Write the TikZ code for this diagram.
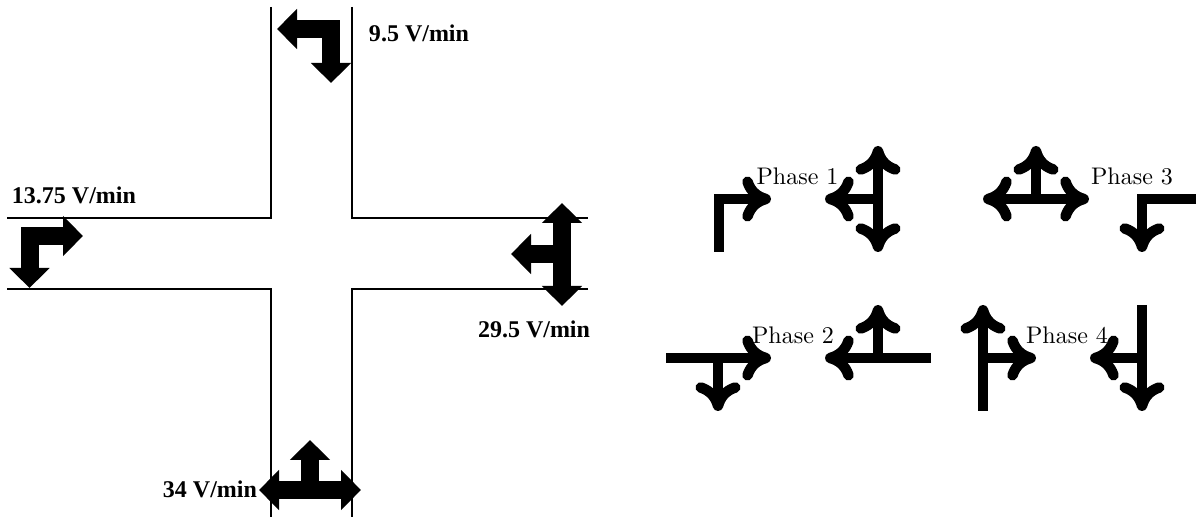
\documentclass[tikz,border=0pt]{standalone}
\usepackage{fontspec}
\newfontfamily\ratefont{Liberation Serif}
\usetikzlibrary{arrows.meta}
\tikzset{
  roadline/.style={line width=1pt},
  bigarrow/.style={line width=7.2pt,>={Triangle[length=8pt,width=15.6pt]}},
  phasearrow/.style={line width=4.2pt,>={Computer Modern Rightarrow[length=11.5pt,width=18pt,round]}},
  ratelabel/.style={font=\ratefont\bfseries\fontsize{9.6}{12}\selectfont,inner sep=0pt},
  phaselabel/.style={font=\fontsize{9.6}{12}\selectfont,anchor=base,inner sep=0pt}
}

\begin{document}
\begin{tikzpicture}[x=0.4pt,y=-0.4pt]
    \useasboundingbox (0, 0) rectangle (1199, 518);

    \draw[roadline] (271, 7) -- (271, 218) -- (7, 218);
    \draw[roadline] (352, 7) -- (352, 218) -- (588, 218);
    \draw[roadline] (7, 289) -- (271, 289) -- (271, 517);
    \draw[roadline] (588, 289) -- (352, 289) -- (352, 517);

    \draw[bigarrow,<->] (277, 29) -| (331, 83);
    \draw[bigarrow,<->] (83, 236) -| (29.5, 288);
    \draw[bigarrow,<->] (562, 203) -- (562, 306);
    \draw[bigarrow,->] (562, 254) -- (511, 254);
    \draw[bigarrow,<->] (259, 490) -- (361, 490);
    \draw[bigarrow,->] (310, 490) -- (310, 440);

    \node[ratelabel] (rateN) at (419, 33) {9.5 V/min};
    \node[ratelabel] (rateW) at (74, 195) {13.75 V/min};
    \node[ratelabel] (rateE) at (534, 329) {29.5 V/min};
    \node[ratelabel] (rateS) at (210, 489) {34 V/min};

    \draw[phasearrow,->] (719, 252) |- (771, 199);
    \draw[phasearrow,<->] (878, 146) -- (878, 252);
    \draw[phasearrow,->] (878, 199) -- (825, 199);

    \draw[phasearrow,<->] (983, 199) -- (1089, 199);
    \draw[phasearrow,->] (1036, 199) -- (1036, 146);
    \draw[phasearrow,->] (1196, 199) -| (1142, 252);

    \draw[phasearrow,->] (666, 358) -- (771, 358);
    \draw[phasearrow,->] (718, 358) -- (718, 411);
    \draw[phasearrow,->] (931, 358) -- (825, 358);
    \draw[phasearrow,->] (878, 358) -- (878, 305);

    \draw[phasearrow,->] (983, 411) -- (983, 305);
    \draw[phasearrow,->] (983, 358) -- (1036, 358);
    \draw[phasearrow,->] (1142, 305) -- (1142, 411);
    \draw[phasearrow,->] (1142, 358) -- (1090, 358);

    \node[phaselabel] (phase1) at (797.5, 185) {Phase 1};
    \node[phaselabel] (phase2) at (793, 344) {Phase 2};
    \node[phaselabel] (phase3) at (1132, 185) {Phase 3};
    \node[phaselabel] (phase4) at (1067, 344) {Phase 4};
\end{tikzpicture}
\end{document}
